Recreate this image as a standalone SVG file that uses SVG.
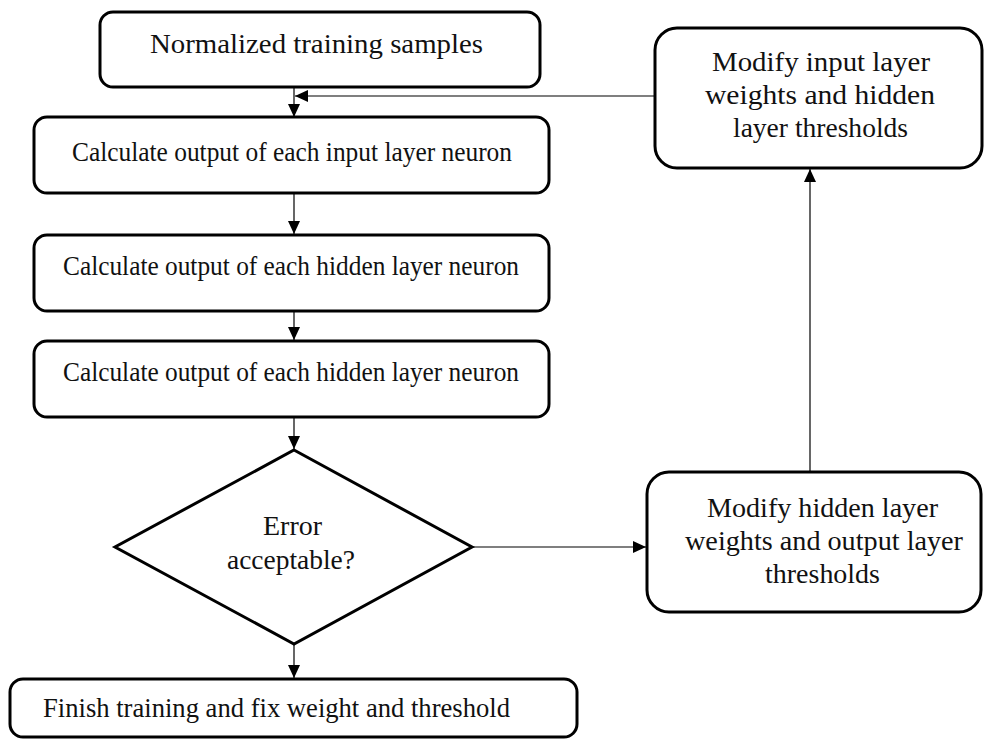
<svg xmlns="http://www.w3.org/2000/svg" width="984" height="751" viewBox="0 0 984 751">
<defs>
<style>
.box{fill:#fff;stroke:#000;stroke-width:3}
.t{font-family:"Liberation Serif","Times New Roman",serif;font-size:28px;fill:#111;text-anchor:middle}
.c{stroke:#000;stroke-width:1.2;fill:none}
</style>
<marker id="ah" viewBox="0 0 13 12" refX="13" refY="6" markerWidth="13" markerHeight="12" markerUnits="userSpaceOnUse" orient="auto">
<path d="M0,0 L13,6 L0,12 Z" fill="#000"/>
</marker>
</defs>
<rect width="984" height="751" fill="#fff"/>
<g id="connectors">
<line class="c" x1="294" y1="87" x2="294" y2="117" marker-end="url(#ah)"/>
<line class="c" x1="294" y1="193" x2="294" y2="234" marker-end="url(#ah)"/>
<line class="c" x1="294" y1="311" x2="294" y2="340" marker-end="url(#ah)"/>
<line class="c" x1="294" y1="417" x2="294" y2="449" marker-end="url(#ah)"/>
<line class="c" x1="294" y1="644" x2="294" y2="678" marker-end="url(#ah)"/>
<line class="c" x1="472" y1="547" x2="646" y2="547" marker-end="url(#ah)"/>
<line class="c" x1="810" y1="472" x2="810" y2="169" marker-end="url(#ah)"/>
<line class="c" x1="655" y1="96" x2="295" y2="96" marker-end="url(#ah)"/>
</g>
<g id="n1"><rect class="box" x="100" y="12" width="440" height="75" rx="13"/>
<text class="t" x="316.5" y="53" textLength="333" lengthAdjust="spacingAndGlyphs">Normalized training samples</text></g>
<g id="n2"><rect class="box" x="34" y="117" width="515" height="76" rx="13"/>
<text class="t" x="292" y="161" textLength="440" lengthAdjust="spacingAndGlyphs">Calculate output of each input layer neuron</text></g>
<g id="n3"><rect class="box" x="34" y="235" width="515" height="76" rx="13"/>
<text class="t" x="291" y="275" textLength="456" lengthAdjust="spacingAndGlyphs">Calculate output of each hidden layer neuron</text></g>
<g id="n4"><rect class="box" x="34" y="341" width="515" height="76" rx="13"/>
<text class="t" x="291" y="381" textLength="456" lengthAdjust="spacingAndGlyphs">Calculate output of each hidden layer neuron</text></g>
<g id="n5"><polygon class="box" points="294,450 472,547 294,644 115,547"/>
<text class="t" x="292.5" y="535" textLength="59" lengthAdjust="spacingAndGlyphs">Error</text>
<text class="t" x="291" y="569" textLength="128" lengthAdjust="spacingAndGlyphs">acceptable?</text></g>
<g id="n6"><rect class="box" x="10" y="679" width="567" height="58" rx="13"/>
<text class="t" x="276.5" y="717" textLength="467" lengthAdjust="spacingAndGlyphs">Finish training and fix weight and threshold</text></g>
<g id="n7"><rect class="box" x="647" y="472" width="334" height="140" rx="22"/>
<text class="t" x="822.5" y="517" textLength="231" lengthAdjust="spacingAndGlyphs">Modify hidden layer</text>
<text class="t" x="824" y="550" textLength="278" lengthAdjust="spacingAndGlyphs">weights and output layer</text>
<text class="t" x="822.5" y="583" textLength="115" lengthAdjust="spacingAndGlyphs">thresholds</text></g>
<g id="n8"><rect class="box" x="655" y="28" width="327" height="140" rx="22"/>
<text class="t" x="821" y="71" textLength="218" lengthAdjust="spacingAndGlyphs">Modify input layer</text>
<text class="t" x="820" y="104" textLength="230" lengthAdjust="spacingAndGlyphs">weights and hidden</text>
<text class="t" x="820.5" y="137" textLength="175" lengthAdjust="spacingAndGlyphs">layer thresholds</text></g>
</svg>
